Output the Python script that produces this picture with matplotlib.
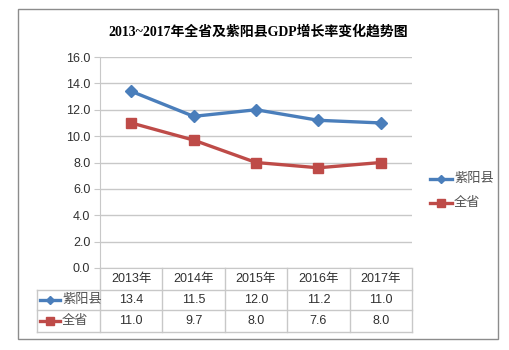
import matplotlib
matplotlib.use("Agg")
import matplotlib.pyplot as plt
from matplotlib.patches import Rectangle
from matplotlib.lines import Line2D
import matplotlib.transforms as mtransforms

plt.rcParams['font.family'] = ['Liberation Sans Narrow', 'Liberation Sans', 'Noto Sans CJK SC']

title = "2013~2017年全省及紫阳县GDP增长率变化趋势图"
categories = ["2013年", "2014年", "2015年", "2016年", "2017年"]
series_names = ["紫阳县", "全省"]
ziyang = [13.4, 11.5, 12.0, 11.2, 11.0]
quansheng = [11.0, 9.7, 8.0, 7.6, 8.0]
yticks = [0, 2, 4, 6, 8, 10, 12, 14, 16]

blue = "#4A7EBB"
red = "#BE4B48"
grid_c = "#C8C8C8"

W, H = 510, 350
fig = plt.figure(figsize=(W / 100, H / 100), dpi=100)
fig.patch.set_facecolor("white")

def fx(px):
    return px / W

def fy(py):
    return 1 - py / H

# outer border
fig.add_artist(Rectangle((fx(18), fy(339)), fx(498) - fx(18), fy(9) - fy(339),
                         transform=fig.transFigure, fill=False, edgecolor="#8C8C8C", lw=1.0))

fig.text(fx(258), fy(32), title, ha="center", va="center", fontsize=10, fontweight="bold",
         family=['Liberation Serif', 'Noto Sans CJK SC'])

ax_l, ax_r, ax_t, ax_b = 100, 412, 57, 268
ax = fig.add_axes([fx(ax_l), fy(ax_b), fx(ax_r) - fx(ax_l), fy(ax_t) - fy(ax_b)])
x = list(range(len(categories)))
ax.plot(x, ziyang, color=blue, lw=2.4, marker="D", ms=6, mfc=blue, mec=blue, zorder=3)
ax.plot(x, quansheng, color=red, lw=2.4, marker="s", ms=7, mfc=red, mec=red, zorder=3)
ax.set_xlim(-0.5, len(categories) - 0.5)
ax.set_ylim(0, 16)
ax.set_yticks(yticks)
ax.set_yticklabels([f"{v:.1f}" for v in yticks], fontsize=9, color="#303030")
ax.set_xticks([])
ax.grid(axis="y", color=grid_c, lw=1.0)
ax.set_axisbelow(True)
for s in ["top", "right"]:
    ax.spines[s].set_visible(False)
ax.spines["left"].set_color(grid_c)
ax.spines["bottom"].set_color(grid_c)
ax.tick_params(axis="y", length=4, color=grid_c, pad=3)

# data table
trans = mtransforms.blended_transform_factory(ax.transData, fig.transFigure)
row_y = [268, 290, 310, 332]
xl = -0.5 - (ax_l - 37) / ((ax_r - ax_l) / len(categories))
xr = len(categories) - 0.5
for yy in row_y[1:]:
    fig.add_artist(Line2D([xl, xr], [fy(yy), fy(yy)], transform=trans, color=grid_c, lw=1.0))
for k in range(len(categories) + 1):
    fig.add_artist(Line2D([k - 0.5, k - 0.5], [fy(268), fy(332)], transform=trans, color=grid_c, lw=1.0))
fig.add_artist(Line2D([xl, xl], [fy(290), fy(332)], transform=trans, color=grid_c, lw=1.0))

for k, c in enumerate(categories):
    fig.text(k, fy(279), c, transform=trans, ha="center", va="center", fontsize=9, color="#303030")
for vals, yc in [(ziyang, 300), (quansheng, 321)]:
    for k, v in enumerate(vals):
        fig.text(k, fy(yc), f"{v:.1f}", transform=trans, ha="center", va="center", fontsize=9,
                 color="#303030")

# table legend keys
for name, col, mk, ms, yc in [(series_names[0], blue, "D", 4, 300), (series_names[1], red, "s", 6, 321)]:
    fig.add_artist(Line2D([fx(40), fx(60)], [fy(yc), fy(yc)], transform=fig.transFigure,
                          color=col, lw=2.4))
    fig.add_artist(Line2D([fx(50)], [fy(yc)], transform=fig.transFigure, color=col,
                          marker=mk, ms=ms, mfc=col, mec=col))
    fig.text(fx(62), fy(yc), name, ha="left", va="center", fontsize=9.5, color="#505050")

# right legend
for name, col, mk, ms, yc in [(series_names[0], blue, "D", 4, 179), (series_names[1], red, "s", 6, 203)]:
    fig.add_artist(Line2D([fx(430), fx(452)], [fy(yc), fy(yc)], transform=fig.transFigure,
                          color=col, lw=2.4))
    fig.add_artist(Line2D([fx(441)], [fy(yc)], transform=fig.transFigure, color=col,
                          marker=mk, ms=ms, mfc=col, mec=col))
    fig.text(fx(454), fy(yc), name, ha="left", va="center", fontsize=9.5, color="#505050")

fig.savefig("out.png", dpi=100)
